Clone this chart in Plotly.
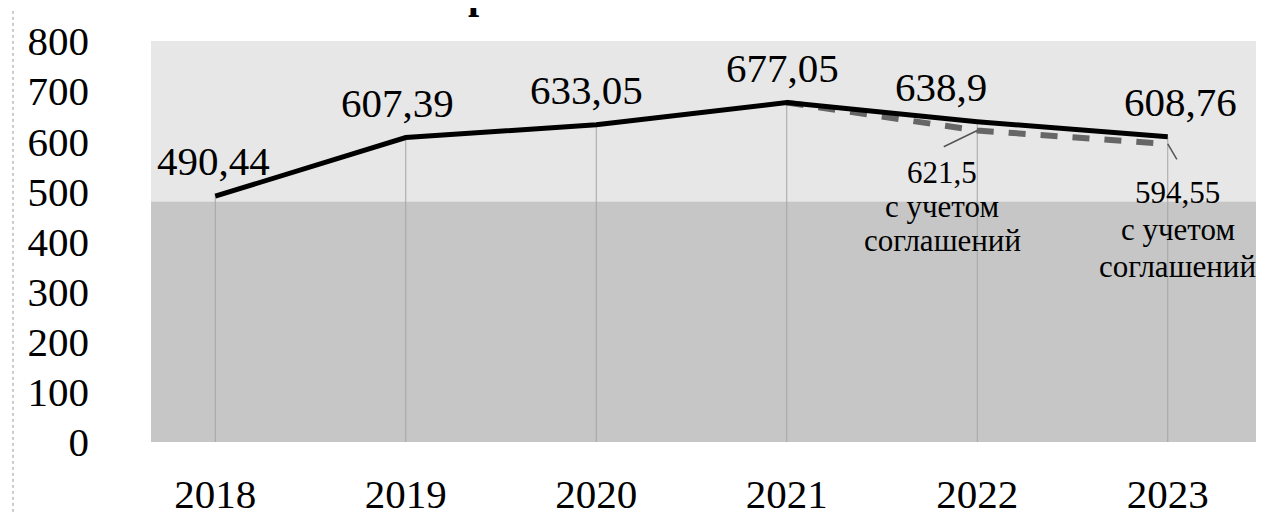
import plotly.graph_objects as go

# ---- data ----
years = ["2018", "2019", "2020", "2021", "2022", "2023"]
actual = [490.44, 607.39, 633.05, 677.05, 638.9, 608.76]
actual_labels = ["490,44", "607,39", "633,05", "677,05", "638,9", "608,76"]
agreed_years = ["2021", "2022", "2023"]
agreed = [677.05, 621.5, 594.55]
agreed_notes = {"2022": ["621,5", "с учетом", "соглашений"],
                "2023": ["594,55", "с учетом", "соглашений"]}
y_ticks = [0, 100, 200, 300, 400, 500, 600, 700, 800]

FONT = "Liberation Serif"
BIG = 41
SMALL = 31

fig = go.Figure()

# drop lines from the actual series to zero
fig.add_trace(go.Scatter(
    x=years, y=actual, mode="markers", marker=dict(size=1, color="rgba(0,0,0,0)"),
    error_y=dict(type="data", symmetric=False, array=[0] * len(actual),
                 arrayminus=actual, thickness=1, width=0, color="#a4a4a4"),
    hoverinfo="skip", showlegend=False))

# dashed series (with agreements)
fig.add_trace(go.Scatter(
    x=agreed_years, y=agreed, mode="lines",
    line=dict(color="#666666", width=6, dash="17px,15px"),
    showlegend=False))

# solid series
fig.add_trace(go.Scatter(
    x=years, y=actual, mode="lines",
    line=dict(color="black", width=5),
    showlegend=False))

annotations = []
label_dx = [-2, -8, -10, -4, -36, 13]
for i, (v, t) in enumerate(zip(actual, actual_labels)):
    annotations.append(dict(x=i, y=v, xref="x", yref="y", text=t, showarrow=False, yshift=35,
                            xshift=label_dx[i], font=dict(family=FONT, size=BIG, color="black")))

note_style = {"2022": dict(dx=-35, first=-42, step=34, ax=-35, ay=17),
              "2023": dict(dx=10, first=-49, step=37, ax=10, ay=17)}
for yr, v in zip(agreed_years, agreed):
    if yr not in agreed_notes:
        continue
    xi = years.index(yr)
    st = note_style[yr]
    annotations.append(dict(x=xi, y=v, xref="x", yref="y", text="", showarrow=True, arrowhead=0,
                            arrowwidth=1.5, arrowcolor="#555", ax=st["ax"], ay=st["ay"]))
    for k, line in enumerate(agreed_notes[yr]):
        annotations.append(dict(x=xi, y=v, xref="x", yref="y", text=line, showarrow=False,
                                xshift=st["dx"], yshift=st["first"] - k * st["step"],
                                font=dict(family=FONT, size=SMALL, color="black")))

# partially visible title glyph cut by the top edge (as in the scanned reference)
annotations.append(dict(xref="paper", yref="paper", x=(458 - 112) / 1143, y=1 + 23 / 413,
                        yanchor="bottom", text="<b>р</b>", showarrow=False,
                        font=dict(family=FONT, size=40, color="black")))

shapes = [
    # lighter upper part of the background picture
    dict(type="rect", xref="paper", yref="y", x0=(143 - 112) / 1143, x1=1, y0=480, y1=800,
         fillcolor="#e7e7e7", line=dict(width=0), layer="below"),
    # darker lower part
    dict(type="rect", xref="paper", yref="y", x0=(143 - 112) / 1143, x1=1, y0=0, y1=480,
         fillcolor="#c6c6c6", line=dict(width=0), layer="below"),
    # scanned page border on the left
    dict(type="line", xref="paper", yref="paper", x0=(5 - 112) / 1143, x1=(5 - 112) / 1143,
         y0=-72 / 413, y1=1 + 33 / 413, line=dict(color="#9a9a9a", width=1, dash="dot")),
]

fig.update_layout(
    width=1264, height=518,
    margin=dict(l=112, r=9, t=33, b=72),
    paper_bgcolor="white", plot_bgcolor="white",
    annotations=annotations, shapes=shapes,
    xaxis=dict(type="category", range=[-0.5, 5.5], showgrid=False, zeroline=False,
               showline=False, ticks="", ticklabelstandoff=24,
               tickfont=dict(family=FONT, size=BIG, color="black")),
    yaxis=dict(range=[0, 800], tickvals=y_ticks, showgrid=False, zeroline=False,
               showline=False, ticks="", ticklabelstandoff=30,
               tickfont=dict(family=FONT, size=BIG, color="black")),
    showlegend=False,
)

fig.write_html("out.html")
